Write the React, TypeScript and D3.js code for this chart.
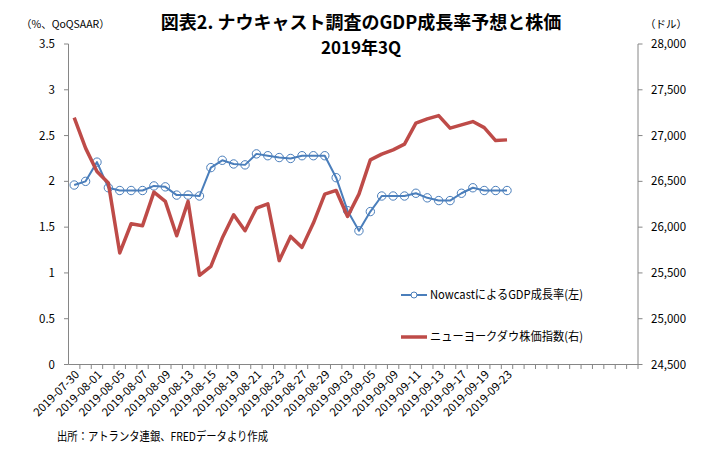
import * as d3 from 'd3';

const dates = [
  '2019-07-30', '2019-07-31', '2019-08-01', '2019-08-02', '2019-08-05', '2019-08-06', '2019-08-07',
  '2019-08-08', '2019-08-09', '2019-08-12', '2019-08-13', '2019-08-14', '2019-08-15', '2019-08-16',
  '2019-08-19', '2019-08-20', '2019-08-21', '2019-08-22', '2019-08-23', '2019-08-26', '2019-08-27',
  '2019-08-28', '2019-08-29', '2019-08-30', '2019-09-03', '2019-09-04', '2019-09-05', '2019-09-06',
  '2019-09-09', '2019-09-10', '2019-09-11', '2019-09-12', '2019-09-13', '2019-09-16', '2019-09-17',
  '2019-09-18', '2019-09-19', '2019-09-20', '2019-09-23',
];

// Nowcast GDP growth (%, QoQ SAAR), left axis
const gdpNowcast = [
  1.96, 2.0, 2.21, 1.93, 1.9, 1.9, 1.9, 1.95, 1.94, 1.85, 1.85, 1.84, 2.15,
  2.23, 2.19, 2.18, 2.3, 2.28, 2.26, 2.25, 2.28, 2.28, 2.28, 2.04, 1.68,
  1.46, 1.67, 1.84, 1.84, 1.84, 1.87, 1.82, 1.79, 1.79, 1.87, 1.93, 1.9, 1.9, 1.9,
];

// Dow Jones index (USD), right axis
const dowIndex = [
  27196, 26863, 26608, 26481, 25718, 26037, 26016, 26383, 26281, 25906, 26281, 25474, 25572,
  25881, 26135, 25961, 26208, 26255, 25634, 25899, 25779, 26045, 26361, 26401, 26117,
  26361, 26735, 26797, 26844, 26906, 27135, 27182, 27218, 27081, 27117, 27153, 27087, 26945, 26953,
];

// empty category rows after the last date
const blankSlots = 11;

const titleLines = ['図表2. ナウキャスト調査のGDP成長率予想と株価', '2019年3Q'];
const seriesNames = ['NowcastによるGDP成長率(左)', 'ニューヨークダウ株価指数(右)'];
const leftUnit = '（%、QoQSAAR）';
const rightUnit = '（ドル）';
const sourceNote = '出所：アトランタ連銀、FREDデータより作成';

const FONT = "'Noto Sans CJK JP', 'Noto Sans', sans-serif";
const BLUE = '#4a7ebb';
const RED = '#be4b48';
const AXIS = '#868686';

const App = () => {
  const width = 719;
  const height = 450;
  const left = 68.5;
  const right = 638;
  const top = 44;
  const bottom = 364.5;

  const cats = dates.concat(d3.range(blankSlots).map((i) => `_blank${i}`));
  const x = d3.scaleBand<string>().domain(cats).range([left, right]);
  const cx = (d: string) => (x(d) as number) + x.bandwidth() / 2;
  const yL = d3.scaleLinear().domain([0, 3.5]).range([bottom, top]);
  const yR = d3.scaleLinear().domain([24500, 28000]).range([bottom, top]);

  const gdpLine = d3.line<number>()
    .x((_, i) => cx(dates[i]))
    .y((d) => yL(d));
  const dowLine = d3.line<number>()
    .x((_, i) => cx(dates[i]))
    .y((d) => yR(d));

  const fmtR = d3.format(',');

  return (
    <svg width={width} height={height} style={{ position: 'absolute', left: 0, top: 0, background: '#fff' }}
      fontFamily={FONT}>
      {/* title */}
      <text x={361} y={29} textAnchor="middle" fontSize={18} fontWeight="bold" fill="#000">{titleLines[0]}</text>
      <text x={361} y={54} textAnchor="middle" fontSize={17} fontWeight="bold" fill="#000">{titleLines[1]}</text>
      <text x={21} y={28} fontSize={10.5} fill="#000">{leftUnit}</text>
      <text x={645} y={28} fontSize={10.5} fill="#000">{rightUnit}</text>

      {/* left axis */}
      <line x1={left} x2={left} y1={top} y2={bottom} stroke={AXIS} strokeWidth={1} />
      {yL.ticks(7).map((t) => (
        <g key={`l${t}`}>
          <line x1={left - 4.5} x2={left} y1={yL(t)} y2={yL(t)} stroke={AXIS} />
          <text x={55} y={yL(t)} dy="0.35em" textAnchor="end" fontSize={11.5} fill="#000">{String(t)}</text>
        </g>
      ))}

      {/* right axis */}
      <line x1={right} x2={right} y1={top} y2={bottom} stroke={AXIS} strokeWidth={1} />
      {yR.ticks(7).map((t) => (
        <g key={`r${t}`}>
          <line x1={right} x2={right + 4.5} y1={yR(t)} y2={yR(t)} stroke={AXIS} />
          <text x={651} y={yR(t)} dy="0.35em" fontSize={11.5} fill="#000">{fmtR(t)}</text>
        </g>
      ))}

      {/* category axis */}
      <line x1={left} x2={right} y1={bottom} y2={bottom} stroke={AXIS} />
      {cats.map((c) => (
        <line key={`t${c}`} x1={(x(c) as number) + x.bandwidth()} x2={(x(c) as number) + x.bandwidth()}
          y1={bottom} y2={bottom + 4.5} stroke={AXIS} />
      ))}
      {dates.filter((_, i) => i % 2 === 0).map((d) => (
        <text key={`x${d}`} transform={`translate(${cx(d) + 3},${bottom + 8}) rotate(-45)`}
          textAnchor="end" dy="0.35em" fontSize={11.5} fill="#000">{d}</text>
      ))}

      {/* series */}
      <path d={gdpLine(gdpNowcast) as string} fill="none" stroke={BLUE} strokeWidth={2} strokeLinejoin="round" />
      {gdpNowcast.map((v, i) => (
        <circle key={`c${i}`} cx={cx(dates[i])} cy={yL(v)} r={4.2} fill="none" stroke={BLUE} strokeWidth={1} />
      ))}
      <path d={dowLine(dowIndex) as string} fill="none" stroke={RED} strokeWidth={3.5} strokeLinejoin="round" />

      {/* legend */}
      <line x1={401} x2={427} y1={295} y2={295} stroke={BLUE} strokeWidth={2} />
      <circle cx={414} cy={295} r={3} fill="#fff" stroke={BLUE} strokeWidth={1} />
      <text x={430} y={295} dy="0.35em" fontSize={12} fill="#000" textLength={153}
        lengthAdjust="spacingAndGlyphs">{seriesNames[0]}</text>
      <line x1={401} x2={427} y1={337} y2={337} stroke={RED} strokeWidth={3.5} />
      <text x={430} y={337} dy="0.35em" fontSize={12} fill="#000" textLength={153}
        lengthAdjust="spacingAndGlyphs">{seriesNames[1]}</text>

      {/* source */}
      <text x={57} y={441} fontSize={12} fill="#000" textLength={211}
        lengthAdjust="spacingAndGlyphs">{sourceNote}</text>
    </svg>
  );
};

export default App;
